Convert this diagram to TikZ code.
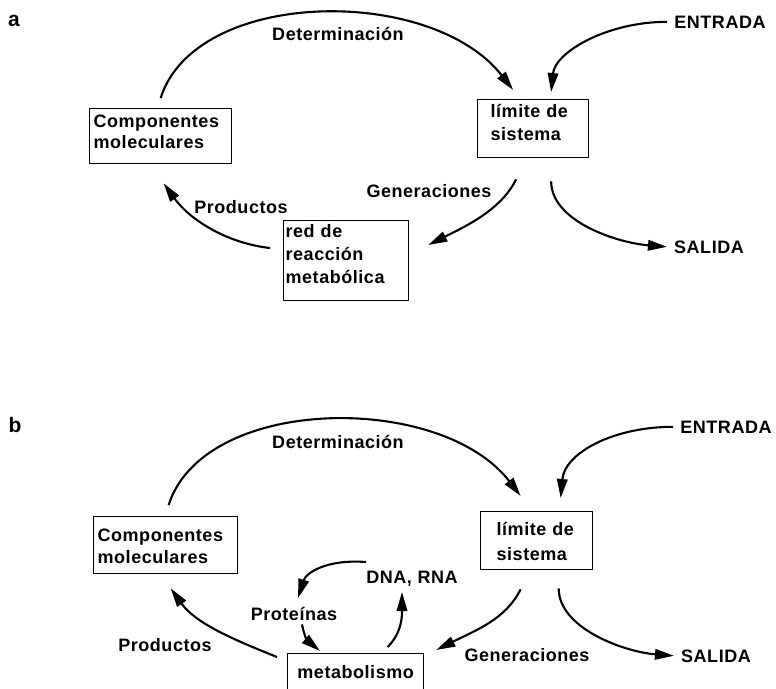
\documentclass[tikz,border=0pt]{standalone}
\usepackage{fontspec}
\setmainfont{Liberation Sans}[LetterSpace=3]
\usetikzlibrary{arrows.meta}

\begin{document}
\begin{tikzpicture}[x=1pt, y=-1pt, font=\bfseries\fontsize{18}{21}\selectfont]
    % Define styles
    \tikzstyle{box} = [draw, line width=1.3pt, anchor=north west, inner ysep=0pt, align=left]
    \tikzstyle{txt} = [anchor=base, inner sep=0pt]
    \tikzstyle{panel} = [anchor=base, inner sep=0pt, font=\bfseries\fontsize{21}{24}\selectfont]
    \tikzstyle{arrow} = [line width=2.1pt, -{Triangle[length=19pt,width=10.5pt]}]

    \useasboundingbox (0,0) rectangle (776,688);

    % Panel a
    \node[panel] (a) at (14,27) {a};
    \node[box, text width=134pt, inner xsep=4pt, text height=19pt, text depth=36pt] (compA) at (89,108) {Componentes\\moleculares};
    \node[box, text width=85pt, inner xsep=13pt, text height=18pt, text depth=40pt,
          font=\bfseries\fontsize{18}{23}\selectfont] (limA) at (477,99) {límite de\\sistema};
    \node[box, text width=121pt, inner xsep=2pt, text height=17pt, text depth=63pt,
          font=\bfseries\fontsize{18}{23}\selectfont] (redA) at (283,220) {red de\\reacción\\metabólica};
    \node[txt] (detA) at (338,40) {Determinación};
    \node[txt] (entA) at (720,28) {ENTRADA};
    \node[txt] (salA) at (709,253) {SALIDA};
    \node[txt] (genA) at (429,197) {Generaciones};
    \node[txt] (proA) at (241,213) {Productos};

    \draw[arrow] ([yshift=10pt]compA.north) .. controls +(35,-110) and +(-82,-105) .. ([xshift=-20pt,yshift=9pt]limA.north);
    \draw[arrow] ([xshift=-7pt]entA.west) .. controls +(-60,0) and +(4,-40) .. ([xshift=18pt,yshift=7pt]limA.north);
    \draw[arrow] ([xshift=-17pt,yshift=-21pt]limA.south) .. controls +(-15,30) and +(40,-20) .. ([xshift=19pt,yshift=-25pt]redA.north east);
    \draw[arrow] ([xshift=18pt,yshift=-23pt]limA.south) .. controls +(0,40) and +(-50,-4) .. ([xshift=-7pt]salA.west);
    \draw[arrow] ([xshift=-13pt,yshift=-28pt]redA.north west) .. controls +(-45,-5) and +(25,35) .. ([xshift=3pt,yshift=-19pt]compA.south);

    % Panel b
    \node[panel] (b) at (15,432) {b};
    \node[box, text width=136pt, inner xsep=4pt, text height=25pt, text depth=32pt,
          font=\bfseries\fontsize{18}{22}\selectfont] (compB) at (93,516) {Componentes\\moleculares};
    \node[box, text width=80pt, inner xsep=16pt, text height=24pt, text depth=34pt,
          font=\bfseries\fontsize{18}{25}\selectfont] (limB) at (480,511) {límite de\\sistema};
    \node[box, align=center, text width=136pt, inner xsep=0pt, text height=25pt, text depth=60pt] (met) at (287,653) {metabolismo};
    \node[txt] (detB) at (338,448) {Determinación};
    \node[txt] (entB) at (726,433) {ENTRADA};
    \node[txt] (salB) at (716,662) {SALIDA};
    \node[txt] (genB) at (527,661) {Generaciones};
    \node[txt] (proB) at (165,651) {Productos};
    \node[txt] (dna) at (412,583) {DNA, RNA};
    \node[txt] (prot) at (294,620) {Proteínas};

    \draw[arrow] ([xshift=3pt,yshift=11pt]compB.north) .. controls +(35,-110) and +(-80,-104) .. ([xshift=-16pt,yshift=15pt]limB.north);
    \draw[arrow] ([xshift=-7pt]entB.west) .. controls +(-60,0) and +(4,-45) .. ([xshift=24pt,yshift=13pt]limB.north);
    \draw[arrow] ([xshift=-16pt,yshift=-19pt]limB.south) .. controls +(-15,30) and +(40,-20) .. ([xshift=12pt,yshift=3pt]met.north east);
    \draw[arrow] ([xshift=22pt,yshift=-18pt]limB.south) .. controls +(0,40) and +(-50,-4) .. ([xshift=-7pt]salB.west);
    \draw[arrow] ([xshift=-10pt,yshift=-4pt]met.north west) .. controls +(-45,-18) and +(25,35) .. ([xshift=5pt,yshift=-14pt]compB.south);
    \draw[arrow] ([xshift=8pt,yshift=-4pt]prot.south) .. controls +(3,15) and +(-12,-10) .. ([xshift=33pt,yshift=2pt]met.north west);
    \draw[arrow] ([xshift=32pt,yshift=6pt]met.north) .. controls +(15,-15) and +(0,22) .. ([xshift=-10pt,yshift=-9pt]dna.base);
    \draw[arrow] ([yshift=21pt]dna.base west) .. controls +(-40,-3) and +(8,-25) .. ([xshift=4pt,yshift=22pt]prot.base);
\end{tikzpicture}
\end{document}
